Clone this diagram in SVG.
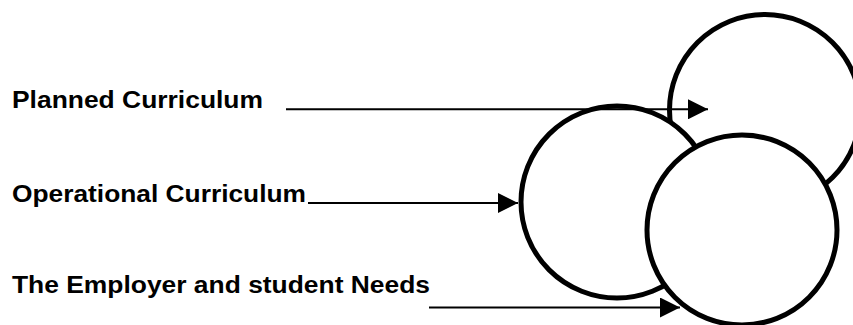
<svg xmlns="http://www.w3.org/2000/svg" width="853" height="325" viewBox="0 0 853 325">
  <defs>
    <style>
      .circ { fill: #ffffff; stroke: #000000; stroke-width: 5; }
      .lbl { font-family: "Liberation Sans", Arial, sans-serif; font-weight: bold; font-size: 23px; fill: #000000; }
      .conn { stroke: #000000; stroke-width: 2; fill: none; marker-end: url(#arrow); }
    </style>
    <marker id="arrow" markerUnits="userSpaceOnUse" markerWidth="20" markerHeight="20" refX="20" refY="10" orient="auto">
      <path d="M0,0 L20,10 L0,20 Z" fill="#000000"/>
    </marker>
  </defs>
  <rect x="0" y="0" width="853" height="325" fill="#ffffff"/>
  <g id="circle-planned">
    <circle class="circ" cx="765" cy="110" r="95.5"/>
  </g>
  <g id="circle-operational">
    <circle class="circ" cx="617" cy="202" r="96"/>
  </g>
  <g id="circle-needs">
    <circle class="circ" cx="742" cy="230" r="95"/>
  </g>
  <g id="label-planned">
    <text class="lbl" x="12" y="108" textLength="251" lengthAdjust="spacingAndGlyphs">Planned Curriculum</text>
  </g>
  <g id="label-operational">
    <text class="lbl" x="12" y="202" textLength="294" lengthAdjust="spacingAndGlyphs">Operational Curriculum</text>
  </g>
  <g id="label-needs">
    <text class="lbl" x="12" y="293" textLength="418" lengthAdjust="spacingAndGlyphs">The Employer and student Needs</text>
  </g>
  <g id="connectors">
    <line class="conn" x1="286" y1="109.3" x2="708" y2="109.3"/>
    <line class="conn" x1="308" y1="203" x2="518" y2="203"/>
    <line class="conn" x1="429" y1="307.5" x2="680" y2="307.5"/>
  </g>
</svg>
